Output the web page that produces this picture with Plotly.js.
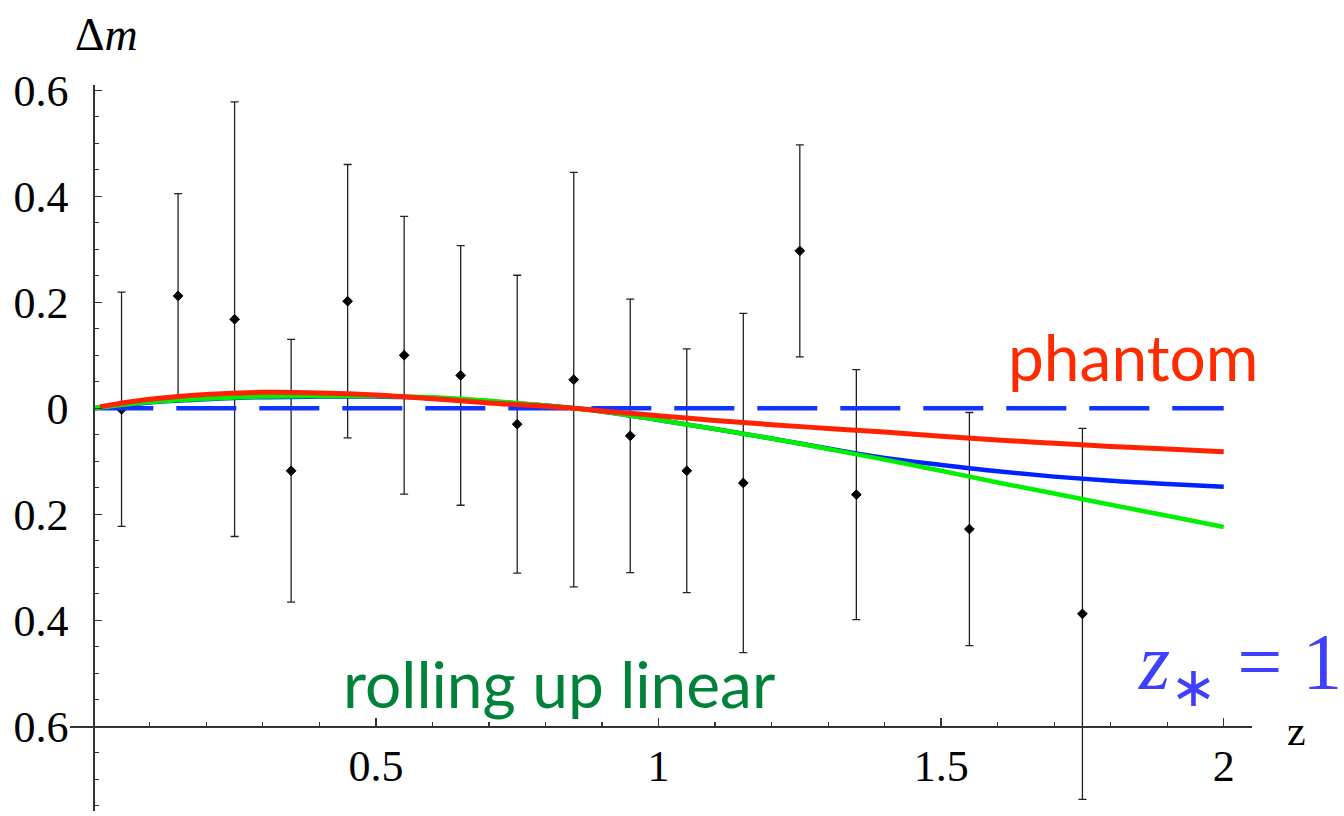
<!DOCTYPE html>
<html>
<head>
<meta charset="utf-8">
<script src="https://cdn.plot.ly/plotly-3.0.1.min.js"></script>
<style>
  html, body { margin: 0; padding: 0; background: #fff; }
  #chart { width: 1344px; height: 816px; }
</style>
</head>
<body>
<div id="chart"></div>
<script>
// ---- data ----
var dataZ   = [0.05, 0.15, 0.25, 0.35, 0.45, 0.55, 0.65, 0.75, 0.85, 0.95, 1.05, 1.15, 1.25, 1.35, 1.55, 1.75];
var dataDm  = [-0.002, 0.212, 0.168, -0.118, 0.202, 0.100, 0.062, -0.030, 0.054, -0.052, -0.118, -0.141, 0.297, -0.163, -0.228, -0.388];
var dataErr = [0.221, 0.193, 0.410, 0.248, 0.258, 0.262, 0.245, 0.281, 0.391, 0.258, 0.230, 0.320, 0.200, 0.236, 0.220, 0.350];

var curveZ = [0, 0.1, 0.2, 0.3, 0.4, 0.5, 0.6, 0.7, 0.8, 0.85, 0.9, 1.0, 1.1, 1.2, 1.3, 1.4, 1.5, 1.6, 1.7, 1.8, 1.9, 2.0];
var phantomZ = [0.012, 0.1, 0.2, 0.3, 0.4, 0.5, 0.6, 0.7, 0.8, 0.85, 0.9, 1.0, 1.1, 1.2, 1.3, 1.4, 1.5, 1.6, 1.7, 1.8, 1.9, 2.0];
var phantomDm = [0.003, 0.017, 0.026, 0.030, 0.029, 0.025, 0.018, 0.010, 0.004, 0.000, -0.005, -0.014, -0.023, -0.031, -0.038, -0.045, -0.053, -0.060, -0.066, -0.072, -0.077, -0.082];
var rollingDm = [0, 0.012, 0.018, 0.022, 0.023, 0.023, 0.021, 0.014, 0.005, 0.000, -0.006, -0.022, -0.039, -0.057, -0.077, -0.097, -0.118, -0.140, -0.161, -0.182, -0.203, -0.224];
var blueDm    = [0, 0.011, 0.017, 0.021, 0.022, 0.022, 0.020, 0.013, 0.005, 0.000, -0.006, -0.022, -0.039, -0.057, -0.076, -0.094, -0.107, -0.119, -0.129, -0.137, -0.143, -0.148];
var lcdmZ  = [0, 2];
var lcdmDm = [0, 0];

var yTickVals = [-0.6, -0.4, -0.2, 0, 0.2, 0.4, 0.6];
var yTickText = ["0.6", "0.4", "0.2", "0", "0.2", "0.4", "0.6"];
var xTickVals = [0.5, 1, 1.5, 2];
var xTickText = ["0.5", "1", "1.5", "2"];

// ---- layout geometry ----
var W = 1344, Hh = 816;
var L = 70, R = 1252, T = 85, B = 811.5;
var xRange = [-0.0412, 2.05];
var yRange = [-0.76, 0.61];
function px(xp, yp) { return { x: (xp - L) / (R - L), y: (B - yp) / (B - T) }; }

var serif = "Liberation Serif, Times New Roman, serif";
var sans = "Lato, Open Sans, sans-serif";

var traces = [
  {
    x: dataZ, y: dataDm, type: "scatter", mode: "markers",
    marker: { symbol: "diamond", size: 7.5, color: "#000", line: { color: "#000", width: 1 } },
    error_y: { type: "data", array: dataErr, visible: true, color: "#222", thickness: 1.3, width: 4 },
    cliponaxis: false, hoverinfo: "skip"
  },
  {
    x: lcdmZ, y: lcdmDm, type: "scatter", mode: "lines",
    line: { color: "#1133FF", width: 4.5, dash: "60px,23px" }, hoverinfo: "skip"
  },
  {
    x: curveZ, y: blueDm, type: "scatter", mode: "lines",
    line: { color: "#0022FF", width: 4.5, shape: "spline" }, hoverinfo: "skip"
  },
  {
    x: curveZ, y: rollingDm, type: "scatter", mode: "lines",
    line: { color: "#00F000", width: 4.5, shape: "spline" }, hoverinfo: "skip"
  },
  {
    x: phantomZ, y: phantomDm, type: "scatter", mode: "lines",
    line: { color: "#FF2200", width: 5, shape: "spline" }, hoverinfo: "skip"
  }
];

var pDm = px(106, 34), pZ = px(1296, 731), pPh = px(1133, 357), pRo = px(559, 684), pZs = px(1344, 668);

var layout = {
  width: W, height: Hh,
  margin: { l: L, r: W - R, t: T, b: Hh - B, pad: 0 },
  paper_bgcolor: "#fff", plot_bgcolor: "rgba(0,0,0,0)",
  showlegend: false,
  font: { family: serif, color: "#000", size: 44 },
  xaxis: {
    range: xRange, anchor: "free", position: (-0.6 - yRange[0]) / (yRange[1] - yRange[0]),
    showgrid: false, zeroline: false,
    showline: true, linecolor: "#333", linewidth: 1.3,
    tickmode: "array", tickvals: xTickVals, ticktext: xTickText,
    ticks: "inside", ticklen: 8, tickwidth: 1.3, tickcolor: "#333",
    ticklabelstandoff: 1,
    minor: { tickmode: "linear", tick0: 0, dtick: 0.1, ticks: "inside", ticklen: 4, tickwidth: 1.1, tickcolor: "#333" },
    tickfont: { family: serif, size: 44, color: "#000" }
  },
  yaxis: {
    range: yRange, anchor: "free", position: (0 - xRange[0]) / (xRange[1] - xRange[0]),
    showgrid: false, zeroline: false,
    showline: true, linecolor: "#333", linewidth: 1.3,
    tickmode: "array", tickvals: yTickVals, ticktext: yTickText,
    ticks: "inside", ticklen: 7, tickwidth: 1.3, tickcolor: "#333",
    ticklabelstandoff: 16,
    minor: { tickmode: "linear", tick0: 0, dtick: 0.05, ticks: "inside", ticklen: 4, tickwidth: 1.1, tickcolor: "#333" },
    tickfont: { family: serif, size: 44, color: "#000" }
  },
  annotations: [
    { xref: "paper", yref: "paper", x: pDm.x, y: pDm.y, xanchor: "center", yanchor: "middle",
      text: "Δ<i>m</i>", showarrow: false, font: { family: serif, size: 46, color: "#000" } },
    { xref: "paper", yref: "paper", x: pZ.x, y: pZ.y, xanchor: "center", yanchor: "middle",
      text: "z", showarrow: false, font: { family: serif, size: 42, color: "#000" } },
    { xref: "paper", yref: "paper", x: pPh.x, y: pPh.y, xanchor: "center", yanchor: "middle",
      text: "phantom", showarrow: false, font: { family: sans, size: 64, color: "#FF2A00" } },
    { xref: "paper", yref: "paper", x: pRo.x, y: pRo.y, xanchor: "center", yanchor: "middle",
      text: "rolling up linear", showarrow: false, font: { family: sans, size: 64, color: "#00823A" } },
    { xref: "paper", yref: "paper", x: pZs.x, y: pZs.y, xanchor: "right", yanchor: "middle",
      text: "<i>z</i><sub>∗</sub> = 1", showarrow: false, font: { family: serif, size: 80, color: "#3F3FFF" } }
  ]
};

Plotly.newPlot("chart", traces, layout, { staticPlot: true, displayModeBar: false });
</script>
</body>
</html>
